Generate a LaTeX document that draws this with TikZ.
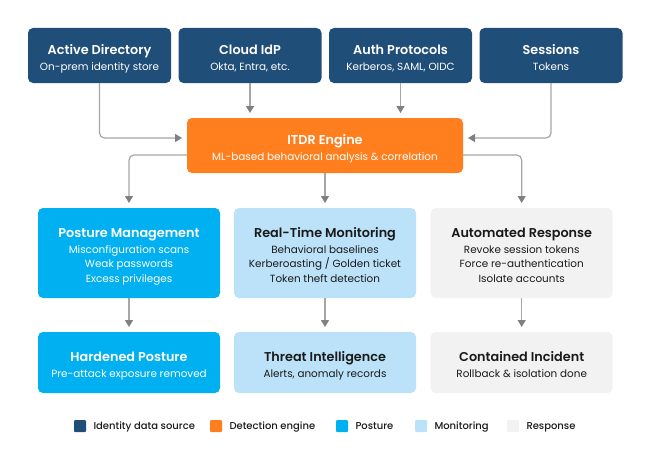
\documentclass[tikz,border=0pt]{standalone}
\usepackage{fontspec}
\setmainfont{Poppins}[BoldFont={Poppins SemiBold}]
\newfontfamily\legendfont{Poppins Medium}
\usetikzlibrary{positioning,arrows.meta}
\definecolor{navy}{HTML}{1F4E79}
\definecolor{engineorange}{HTML}{FF7F1F}
\definecolor{posture}{HTML}{00B0F0}
\definecolor{monitor}{HTML}{BBE2F9}
\definecolor{response}{HTML}{F2F2F2}
\definecolor{linegray}{HTML}{A6A6A6}
\definecolor{tipgray}{HTML}{808080}
\definecolor{inkdark}{HTML}{1A1A1A}
\newcommand{\ttl}[1]{{\rule{0pt}{18pt}\fontsize{12.8}{15}\selectfont\bfseries #1}\\[1.4pt]}
\tikzset{
  box/.style={rounded corners=5pt, inner sep=0pt, outer sep=0pt, align=center,
    font=\fontsize{10.4}{14.7}\selectfont, execute at end node=\strut},
  source/.style={box, fill=navy, text=white, minimum width=143pt, minimum height=55pt},
  engine/.style={box, fill=engineorange, text=white, minimum width=276pt, minimum height=55pt},
  wide/.style={box, minimum width=182pt, minimum height=90pt},
  result/.style={box, minimum width=182pt, minimum height=61pt},
  posture/.style={fill=posture, text=white},
  monitor/.style={fill=monitor, text=inkdark},
  response/.style={fill=response, text=inkdark},
  link/.style={draw=linegray, line width=1.2pt, rounded corners=5pt, shorten >=5pt,
    -{Triangle[length=7pt,width=8pt,color=tipgray]}},
  swatch/.style={minimum size=12pt, inner sep=0pt, outer sep=0pt, rounded corners=1pt},
  legend/.style={inner sep=0pt, outer sep=0pt, text=inkdark, text height=8.5pt, text depth=2.3pt,
    font=\legendfont\fontsize{10}{12}\selectfont, right=7.5pt of #1},
}
\begin{document}
\begin{tikzpicture}[x=1pt,y=-1pt]
  \useasboundingbox (0,0) rectangle (650,460);
  % sources
  \node[source] (ad) at (99.5,55.5) {\ttl{Active Directory}On-prem identity store};
  \node[source] (idp) at (250,55.5) {\ttl{Cloud IdP}Okta, Entra, etc.};
  \node[source] (auth) at (400.5,55.5) {\ttl{Auth Protocols}Kerberos, SAML, OIDC};
  \node[source] (sessions) at (551,55.5) {\ttl{Sessions}Tokens};
  % engine
  \node[engine] (itdr) at (325,145.5) {\ttl{ITDR Engine}ML-based behavioral analysis \& correlation};
  % middle row
  \node[wide,posture] (mgmt) at (129,253) {\ttl{Posture Management}Misconfiguration scans\\Weak passwords\\Excess privileges};
  \node[wide,monitor] (rtm) at (325,253) {\ttl{Real-Time Monitoring}Behavioral baselines\\Kerberoasting / Golden ticket\\Token theft detection};
  \node[wide,response] (auto) at (521.7,253) {\ttl{Automated Response}Revoke session tokens\\Force re-authentication\\Isolate accounts};
  % bottom row
  \node[result,posture] (hard) at (129,362.5) {\ttl{Hardened Posture}Pre-attack exposure removed};
  \node[result,monitor] (intel) at (325,362.5) {\ttl{Threat Intelligence}Alerts, anomaly records};
  \node[result,response] (cont) at (521.7,362.5) {\ttl{Contained Incident}Rollback \& isolation done};
  % connectors
  \draw[link] (ad.south) |- ([yshift=7.5pt]itdr.west);
  \draw[link] (idp.south) -- (idp.south |- itdr.north);
  \draw[link] (auth.south) -- (auth.south |- itdr.north);
  \draw[link] (sessions.south) |- ([yshift=7.5pt]itdr.east);
  \draw[link] ([yshift=-9.5pt]itdr.west) -| (mgmt.north);
  \draw[link] (itdr.south) -- (rtm.north);
  \draw[link] ([yshift=-9.5pt]itdr.east) -| (auto.north);
  \draw[link] (mgmt.south) -- (hard.north);
  \draw[link] (rtm.south) -- (intel.north);
  \draw[link] (auto.south) -- (cont.north);
  % legend
  \node[swatch,fill=navy] (key1) at (80,426) {};
  \node[legend=key1] (lab1) {Identity data source};
  \node[swatch,fill=engineorange] (key2) at (216,426) {};
  \node[legend=key2] (lab2) {Detection engine};
  \node[swatch,fill=posture] (key3) at (342,426) {};
  \node[legend=key3] (lab3) {Posture};
  \node[swatch,fill=monitor] (key4) at (421,426) {};
  \node[legend=key4] (lab4) {Monitoring};
  \node[swatch,fill=response] (key5) at (513,426) {};
  \node[legend=key5] (lab5) {Response};
\end{tikzpicture}
\end{document}
